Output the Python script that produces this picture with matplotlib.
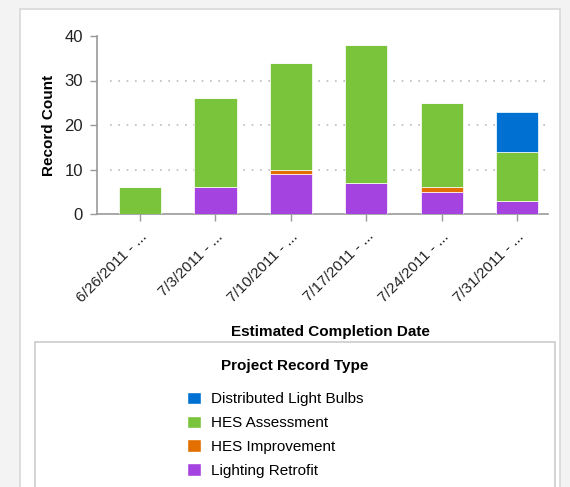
import matplotlib.pyplot as plt
from matplotlib.patches import Rectangle, Patch

plt.rcParams['font.family'] = ['Liberation Sans', 'DejaVu Sans']

dates = ["6/26/2011 - ...", "7/3/2011 - ...", "7/10/2011 - ...",
         "7/17/2011 - ...", "7/24/2011 - ...", "7/31/2011 - ..."]
lighting_retrofit = [0, 6, 9, 7, 5, 3]
hes_improvement = [0, 0, 1, 0, 1, 0]
hes_assessment = [6, 20, 24, 31, 19, 11]
distributed_bulbs = [0, 0, 0, 0, 0, 9]

series = [
    ("Lighting Retrofit", lighting_retrofit, "#a443e0"),
    ("HES Improvement", hes_improvement, "#e26f00"),
    ("HES Assessment", hes_assessment, "#79c43a"),
    ("Distributed Light Bulbs", distributed_bulbs, "#0070d2"),
]

fig = plt.figure(figsize=(5.7, 4.87), dpi=100)
fig.patch.set_facecolor("#f3f3f3")

# white panel behind the chart
panel = Rectangle((20 / 570, -0.05), 540 / 570, 1 - 9 / 487 + 0.05,
                  transform=fig.transFigure, facecolor="white",
                  edgecolor="#d8d8d8", linewidth=1.2, zorder=-10)
fig.patches.append(panel)

ax = fig.add_axes([97 / 570, 1 - 214 / 487, 451 / 570, 178 / 487])
ax.patch.set_alpha(0)

x = list(range(len(dates)))
bottom = [0] * len(dates)
for name, vals, color in series:
    ax.bar(x, vals, width=0.56, bottom=bottom, color=color,
           edgecolor="white", linewidth=0.5, zorder=3)
    bottom = [b + v for b, v in zip(bottom, vals)]

ax.set_xlim(-0.57, 5.41)
ax.set_ylim(0, 40)
ax.set_yticks([0, 10, 20, 30, 40])
ax.set_xticks(x)
ax.set_xticklabels(dates, rotation=45, ha="right", rotation_mode="anchor",
                   fontsize=11, color="#222222")
ax.tick_params(axis="y", labelsize=12, colors="#999999", labelcolor="#222222",
               length=5, width=1, pad=5)
ax.tick_params(axis="x", colors="#999999", labelcolor="#222222", length=5,
               width=1, pad=6)

for yv in [10, 20, 30]:
    ax.plot([-0.4, 5.41], [yv, yv], linestyle=(0, (1, 4)), color="#bbbbbb",
            linewidth=1.2, zorder=1)

for s in ["top", "right"]:
    ax.spines[s].set_visible(False)
for s in ["left", "bottom"]:
    ax.spines[s].set_color("#999999")
    ax.spines[s].set_linewidth(1.2)

ax.set_ylabel("Record Count", fontsize=11, fontweight="bold", labelpad=6)
fig.text(330 / 570, 1 - 332 / 487, "Estimated Completion Date", ha="center",
         va="center", fontsize=11, fontweight="bold")

# legend box
box = Rectangle((35 / 570, -0.05), 520 / 570, 1 - 342 / 487 + 0.05,
                transform=fig.transFigure, facecolor="white",
                edgecolor="#cccccc", linewidth=1.2, zorder=-5)
fig.patches.append(box)

handles = [Patch(facecolor=c, edgecolor="white", label=n)
           for n, v, c in reversed(series)]
leg = fig.legend(handles=handles, loc="upper left",
                 bbox_to_anchor=(173 / 570, 1 - 378 / 487), frameon=False,
                 fontsize=11, handlelength=0.9, handleheight=0.9,
                 handletextpad=0.7, labelspacing=0.6)
fig.text(295 / 570, 1 - 366 / 487, "Project Record Type", ha="center",
         va="center", fontsize=11, fontweight="bold")

fig.savefig("out.png", dpi=100, facecolor=fig.get_facecolor())
